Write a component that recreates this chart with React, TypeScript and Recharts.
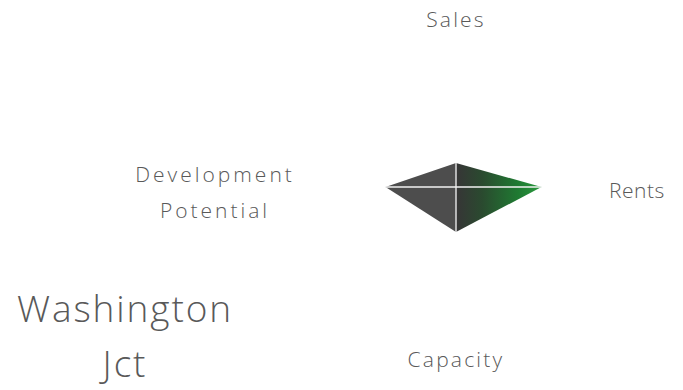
import { RadarChart, Radar, PolarAngleAxis, PolarRadiusAxis } from 'recharts';

const categories = ['Sales', 'Rents', 'Capacity', 'Development Potential'];
const scores = [1.6, 5.7, 3.0, 4.7];
const scoreDomain = [0, 10];
const titleLines = ['Washington', 'Jct'];

const data = categories.map((name, i) => ({ name, score: scores[i] }));

const LABEL_FONT = '"Open Sans", "Liberation Sans", sans-serif';
const TEXT_COLOR = '#595959';

interface TickProps {
  x?: number;
  y?: number;
  payload?: { value: string };
  index?: number;
}

const AxisTick = ({ x = 0, y = 0, payload, index = 0 }: TickProps) => {
  const label = payload?.value ?? '';
  const common = {
    fill: TEXT_COLOR,
    fontSize: 21,
    fontFamily: LABEL_FONT,
    fontWeight: 300,
    letterSpacing: 2.2,
  };
  if (index === 0) {
    return <text x={x} y={y - 2} textAnchor="middle" {...common}>{label}</text>;
  }
  if (index === 1) {
    return <text x={x - 5} y={y + 11} textAnchor="start" {...common} letterSpacing={0.5}>{label}</text>;
  }
  if (index === 2) {
    return <text x={x} y={y + 22} textAnchor="middle" {...common}>{label}</text>;
  }
  const words = label.split(' ');
  return (
    <text x={x - 83} y={y - 5} textAnchor="middle" {...common} letterSpacing={3}>
      {words.map((w, i) => (
        <tspan key={w} x={x - 83} dy={i === 0 ? 0 : 36}>{w}</tspan>
      ))}
    </text>
  );
};

interface RadarPoint {
  x: number;
  y: number;
  cx: number;
  cy: number;
}

// polygon plus white spokes drawn on top of the fill
const RadarShape = (props: { points?: RadarPoint[] }) => {
  const pts = props.points ?? [];
  if (!pts.length) return null;
  const d = pts.map((p, i) => `${i === 0 ? 'M' : 'L'}${p.x},${p.y}`).join(' ') + ' Z';
  return (
    <g>
      <path d={d} fill="url(#radarFill)" stroke="none" />
      {pts.map((p, i) => (
        <line key={i} x1={p.cx} y1={p.cy} x2={p.x} y2={p.y} stroke="#f2f2f2" strokeWidth={1.3} />
      ))}
    </g>
  );
};

export default function App() {
  return (
    <div style={{ position: 'absolute', left: 0, top: 0, width: 683, height: 390, background: '#fff' }}>
      <RadarChart
        width={683}
        height={390}
        data={data}
        cx={456}
        cy={187}
        outerRadius={150}
        margin={{ top: 0, right: 0, bottom: 0, left: 0 }}
      >
        <defs>
          <linearGradient id="radarFill" x1="0" y1="0" x2="1" y2="0">
            <stop offset="0" stopColor="#4d4d4d" />
            <stop offset="0.45" stopColor="#4d4d4d" />
            <stop offset="0.46" stopColor="#363636" />
            <stop offset="0.62" stopColor="#2a4a2f" />
            <stop offset="0.85" stopColor="#1f7a32" />
            <stop offset="1" stopColor="#2a9a3e" />
          </linearGradient>
        </defs>
        <PolarAngleAxis dataKey="name" tick={<AxisTick />} tickLine={false} axisLine={false} />
        <PolarRadiusAxis domain={scoreDomain} tick={false} axisLine={false} />
        <Radar
          dataKey="score"
          fill="url(#radarFill)"
          fillOpacity={1}
          stroke="none"
          shape={<RadarShape />}
          isAnimationActive={false}
        />
      </RadarChart>
      <svg width={250} height={120} style={{ position: 'absolute', left: 0, top: 270 }}>
        {titleLines.map((line, i) => (
          <text
            key={line}
            x={125}
            y={52 + i * 55}
            textAnchor="middle"
            fill={TEXT_COLOR}
            fontSize={37}
            fontFamily={LABEL_FONT}
            fontWeight={300}
            letterSpacing={1.9}
          >
            {line}
          </text>
        ))}
      </svg>
    </div>
  );
}
